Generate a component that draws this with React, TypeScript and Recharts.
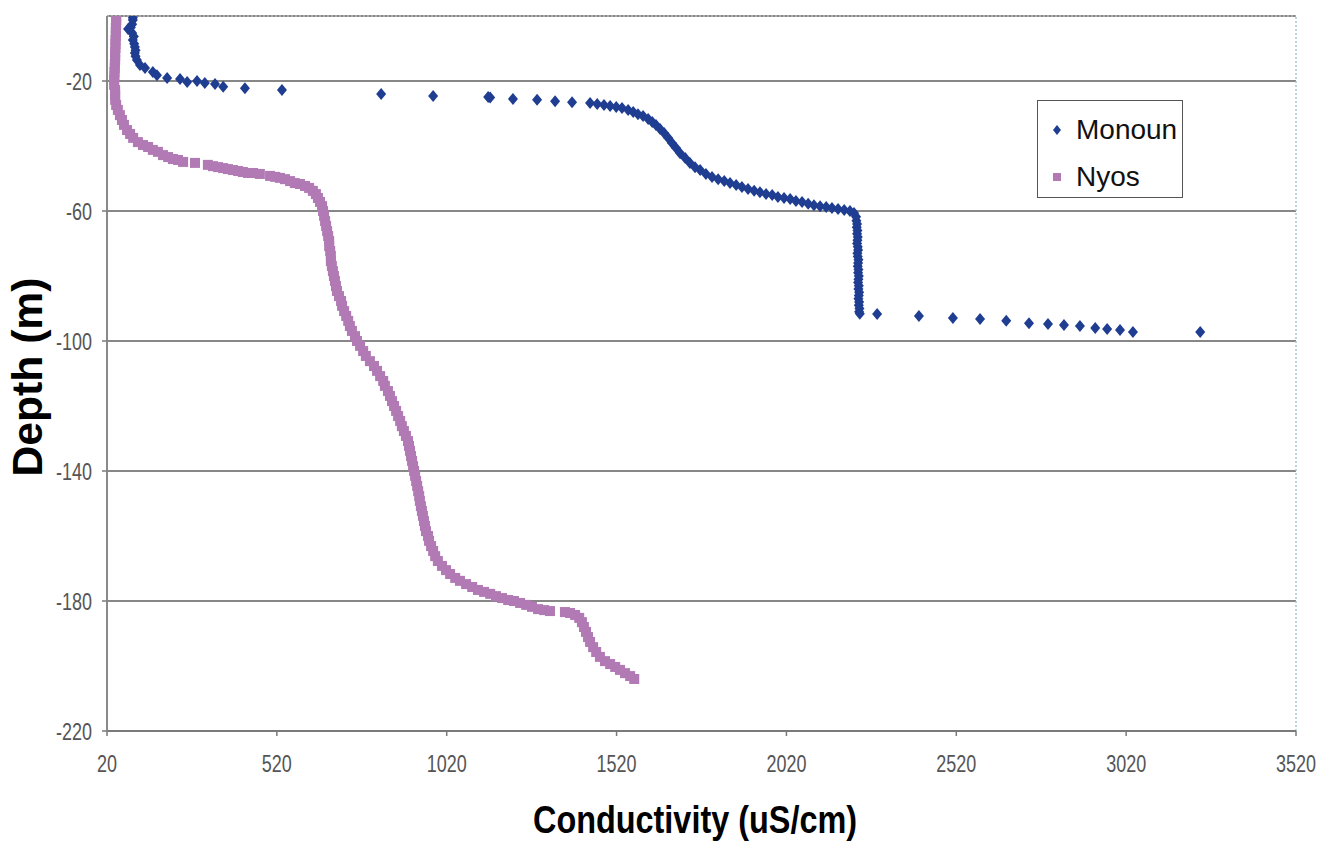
import {
  ScatterChart,
  Scatter,
  XAxis,
  YAxis,
  CartesianGrid,
  ReferenceLine,
  Legend,
} from 'recharts';

// [conductivity uS/cm, depth m]
const monoun: [number, number][] = [
  [96, -0.5], [96, -1.2], [94, -2.5], [90, -3.5], [82, -4], [94, -5.2], [99, -6.3], [96, -7.4],
  [100, -8.5], [102, -9.5], [104, -10.5], [102, -11.4], [104, -12.4], [108, -13.5], [117, -15.1],
  [132, -16], [155, -17.2], [167, -18.2], [197, -19.1], [235, -19.4], [256, -20.3], [285, -20],
  [308, -20.6], [338, -20.9], [362, -21.8], [426, -22.2], [535, -22.8], [827, -24], [980, -24.6],
  [1142, -24.9], [1148, -25.1], [1215, -25.5], [1286, -25.8], [1339, -26.2], [1389, -26.5],
  [1442, -26.8], [1463, -27.1], [1483, -27.4], [1501, -27.7], [1519, -28], [1536, -28.3],
  [1554, -28.9], [1569, -29.5], [1583, -30.2], [1598, -30.8], [1613, -31.7], [1625, -32.6],
  [1636, -33.5], [1648, -34.8], [1660, -36], [1672, -37.5], [1683, -39.1], [1695, -40.6],
  [1707, -42.2], [1722, -43.7], [1736, -45.2], [1751, -46.5], [1766, -47.4], [1783, -48.6],
  [1801, -49.5], [1819, -50.2], [1837, -50.8], [1854, -51.4], [1872, -52], [1889, -52.6],
  [1907, -53.2], [1925, -53.8], [1942, -54.2], [1960, -54.8], [1978, -55.1], [1995, -55.7],
  [2013, -56], [2031, -56.3], [2048, -56.9], [2066, -57.2], [2084, -57.8], [2101, -58.2],
  [2119, -58.5], [2137, -58.8], [2154, -59.1], [2172, -59.4], [2190, -59.7], [2207, -60],
  [2219, -60.6], [2225, -61.8],
  [2226, -63], [2228, -64], [2227, -65], [2229, -66], [2228, -67], [2230, -68], [2229, -69],
  [2228, -70], [2230, -71], [2231, -72], [2229, -73], [2230, -74], [2232, -75], [2231, -76],
  [2230, -77], [2232, -78], [2231, -79], [2233, -80], [2232, -81], [2231, -82], [2233, -83],
  [2232, -84], [2234, -85], [2233, -86], [2232, -87], [2234, -88], [2233, -89], [2235, -90],
  [2234, -91],
  [2236, -91.6], [2287, -91.7], [2410, -92.3], [2510, -92.9], [2590, -93.2], [2667, -93.8],
  [2734, -94.5], [2790, -94.8], [2837, -95.1], [2884, -95.4], [2929, -96], [2964, -96.3],
  [3002, -96.6], [3040, -97.2], [3238, -97.2],
];

const nyos: [number, number][] = [
  [47, 0], [47, -1.2], [47, -2.5], [46, -3.7], [46, -4.9], [46, -6.2], [45, -7.4], [45, -8.6],
  [45, -9.8], [44, -11.1], [44, -12.3], [44, -13.5], [43, -14.8], [43, -16], [42, -17.2],
  [42, -18.5], [41, -19.7],
  [41, -21.2], [44, -22.8], [44, -24.3], [44, -25.8], [47, -27.4], [52, -28.9], [58, -30.5],
  [64, -32], [70, -33.5], [79, -35.1], [88, -36.3], [97, -37.5], [111, -38.8], [126, -39.7],
  [141, -40.3], [155, -41.2], [170, -41.8], [185, -42.8], [200, -43.4], [214, -44], [229, -44.3],
  [244, -44.9],
  [279, -45.2],
  [317, -45.8], [332, -46.2], [347, -46.5], [362, -46.8], [376, -47.1], [391, -47.4], [406, -47.7],
  [420, -48], [435, -48.3], [450, -48.3],
  [470, -48.6],
  [500, -49.2], [515, -49.5], [529, -49.8], [544, -50.2], [559, -50.8], [573, -51.4], [588, -51.7],
  [603, -52.3], [615, -52.9], [626, -53.8], [635, -54.8], [641, -56], [647, -57.2], [653, -58.5],
  [656, -60], [659, -61.5], [662, -63.1], [665, -64.6], [668, -66.2], [671, -67.7], [674, -69.2],
  [674, -70.8], [677, -72.3], [679, -73.8], [679, -75.4], [682, -76.9], [685, -78.5], [688, -80],
  [691, -81.5], [694, -83.1], [697, -84.6], [703, -86.2], [709, -87.7], [712, -89.2], [718, -90.8],
  [724, -92.3], [730, -93.8], [735, -95.4], [741, -96.9], [750, -98.5], [756, -100], [765, -101.5],
  [774, -103.1], [782, -104.6], [794, -106.2], [806, -107.7], [815, -109.2], [824, -110.8],
  [833, -112.3], [838, -113.8], [847, -115.4], [853, -116.9], [859, -118.5], [865, -120],
  [871, -121.5], [877, -123.1], [883, -124.6], [888, -126.2], [894, -127.7], [900, -129.2],
  [906, -130.8], [909, -132.3], [912, -133.8], [915, -135.4], [918, -136.9], [921, -138.5],
  [924, -140], [927, -141.5], [930, -143.1], [933, -144.6], [936, -146.2], [939, -147.7],
  [941, -149.2], [944, -150.8], [947, -152.3], [950, -153.8], [953, -155.4], [956, -156.9],
  [959, -158.5], [965, -160], [968, -161.5], [974, -163.1], [980, -164.6], [986, -166.2],
  [994, -167.7], [1006, -169.2], [1018, -170.5], [1030, -171.7], [1045, -172.9], [1059, -173.8],
  [1077, -174.8], [1095, -175.7], [1112, -176.6], [1130, -177.2], [1148, -177.8], [1165, -178.5],
  [1183, -179.1], [1201, -179.7], [1218, -180], [1236, -180.6], [1254, -181.2], [1271, -181.8],
  [1289, -182.5], [1307, -182.8], [1324, -183.1],
  [1368, -183.4], [1383, -183.7], [1398, -184.3], [1410, -185.2], [1418, -186.5], [1424, -188],
  [1430, -189.5], [1436, -191.1], [1442, -192.6], [1451, -194.2], [1460, -195.7], [1471, -197.2],
  [1486, -198.5], [1501, -199.4], [1516, -200.3], [1530, -201.2], [1545, -202.2], [1560, -203.1],
  [1572, -204],
];

const xTicks = [20, 520, 1020, 1520, 2020, 2520, 3020, 3520];
const yTicks = [-220, -180, -140, -100, -60, -20];

const MONOUN_COLOR = '#1f3d91';
const NYOS_COLOR = '#b27ab5';
const SANS = '"Liberation Sans", Arial, sans-serif';

const toPoints = (rows: [number, number][]) => rows.map(([x, y]) => ({ x, y }));

// the original gif is squeezed sideways, so the text is drawn condensed
const squeezedWidth = (s: string) =>
  s.split('').reduce((w, ch) => w + (ch === '-' ? 6 : 10), 0);

const Tick = (props: any) => {
  const { x, y, payload, textAnchor, vertical } = props;
  const label = String(payload.value);
  return (
    <text
      x={x}
      y={y}
      dy={vertical ? '0.355em' : '0.71em'}
      textAnchor={textAnchor}
      fill="#555"
      fontSize={24}
      fontFamily={SANS}
      textLength={squeezedWidth(label)}
      lengthAdjust="spacingAndGlyphs"
    >
      {label}
    </text>
  );
};

const Diamond = (props: any) => {
  const { cx, cy, fill } = props;
  return (
    <path
      d={`M${cx},${cy - 6}L${cx + 5},${cy}L${cx},${cy + 6}L${cx - 5},${cy}Z`}
      fill={fill}
    />
  );
};

const Square = (props: any) => {
  const { cx, cy, fill } = props;
  return <rect x={cx - 5} y={cy - 5} width={10} height={10} fill={fill} />;
};

const LegendBox = (props: any) => {
  const payload = props.payload || [];
  return (
    <div
      style={{
        position: 'relative',
        width: 146,
        height: 98,
        border: '1.5px solid #555',
        background: '#fff',
        boxSizing: 'border-box',
      }}
    >
      {payload.map((entry: any, i: number) => (
        <div
          key={entry.value}
          style={{
            position: 'absolute',
            left: 12,
            top: 12 + i * 47,
            height: 34,
            display: 'flex',
            alignItems: 'center',
            fontFamily: SANS,
            fontSize: 28,
            color: '#111',
          }}
        >
          <svg width={14} height={14} style={{ marginRight: 12 }}>
            {i === 0 ? (
              <path d="M7,2L11,7L7,12L3,7Z" fill={entry.color} />
            ) : (
              <rect x={3} y={3} width={8} height={8} fill={entry.color} />
            )}
          </svg>
          <span>{entry.value}</span>
        </div>
      ))}
    </div>
  );
};

export default function App() {
  return (
    <div style={{ position: 'absolute', left: 0, top: 0, background: '#fff' }}>
      <ScatterChart width={1328} height={846} margin={{ top: 16, right: 32, bottom: 0, left: 0 }}>
        <CartesianGrid horizontal vertical={false} stroke="#5f5f5f" strokeWidth={1.5} />
        <XAxis
          type="number"
          dataKey="x"
          domain={[20, 3520]}
          ticks={xTicks}
          allowDataOverflow
          height={115}
          tickSize={5}
          tickMargin={19}
          axisLine={{ stroke: '#7a7a7a', strokeWidth: 2 }}
          tickLine={{ stroke: '#7a7a7a', strokeWidth: 1.5 }}
          tick={<Tick vertical={false} />}
          label={{
            content: () => (
              <text
                x={695}
                y={833}
                textAnchor="middle"
                fill="#000"
                fontSize={39}
                fontWeight="bold"
                fontFamily={SANS}
                textLength={324}
                lengthAdjust="spacingAndGlyphs"
              >
                Conductivity (uS/cm)
              </text>
            ),
          }}
        />
        <YAxis
          type="number"
          dataKey="y"
          domain={[-220, 0]}
          ticks={yTicks}
          allowDataOverflow
          width={107}
          tickSize={5}
          tickMargin={10}
          axisLine={{ stroke: '#8a8a8a', strokeWidth: 2 }}
          tickLine={{ stroke: '#7a7a7a', strokeWidth: 1.5 }}
          tick={<Tick vertical />}
          label={{
            content: () => (
              <text
                x={42}
                y={377}
                transform="rotate(-90, 42, 377)"
                textAnchor="middle"
                fill="#000"
                fontSize={42}
                fontWeight="bold"
                fontFamily={SANS}
                textLength={199}
                lengthAdjust="spacingAndGlyphs"
              >
                Depth (m)
              </text>
            ),
          }}
        />
        <ReferenceLine y={0} stroke="#b8b8b8" strokeDasharray="2 2" strokeWidth={1.5} />
        <ReferenceLine x={3520} stroke="#a8c8d0" strokeDasharray="2 2" strokeWidth={1.5} />
        <Legend
          layout="horizontal"
          verticalAlign="middle"
          align="center"
          content={<LegendBox />}
          wrapperStyle={{ left: 1037, top: 100, width: 146, height: 98 }}
        />
        <Scatter
          name="Monoun"
          data={toPoints(monoun)}
          fill={MONOUN_COLOR}
          shape={Diamond}
          isAnimationActive={false}
        />
        <Scatter
          name="Nyos"
          data={toPoints(nyos)}
          fill={NYOS_COLOR}
          shape={Square}
          isAnimationActive={false}
        />
      </ScatterChart>
    </div>
  );
}
